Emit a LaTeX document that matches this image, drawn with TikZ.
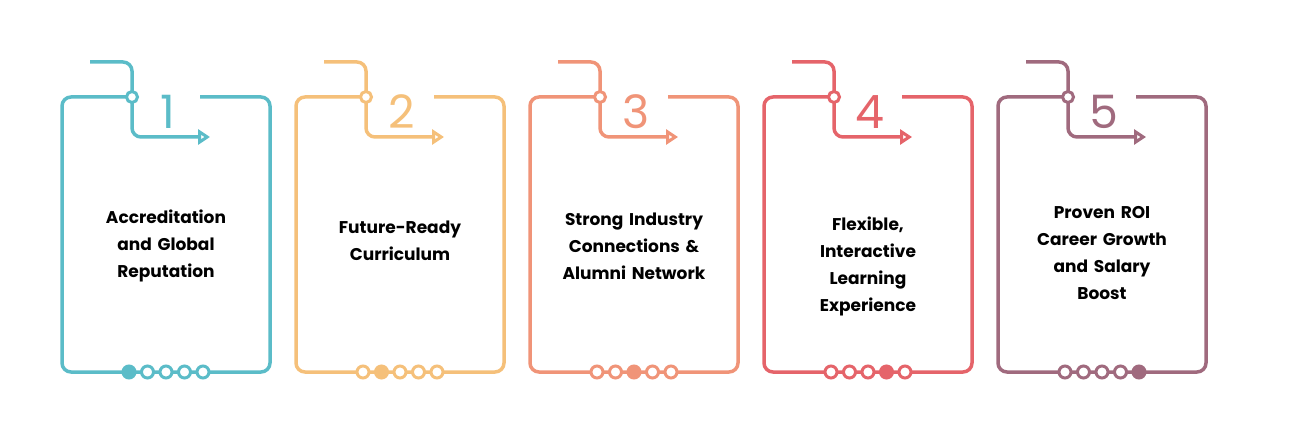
\documentclass[tikz,border=0pt]{standalone}
\usepackage{fontspec}
\setmainfont{Poppins}
\usetikzlibrary{arrows.meta}
\definecolor{cA}{HTML}{5BBCC8}
\definecolor{cB}{HTML}{F5C07A}
\definecolor{cC}{HTML}{F09478}
\definecolor{cD}{HTML}{E5646A}
\definecolor{cE}{HTML}{A06A7E}
\tikzset{
  frame/.style={line width=3.5pt, rounded corners=9pt},
  label/.style={align=center, text width=180pt, font=\bfseries\fontsize{17}{27}\selectfont},
  numtext/.style={font=\fontsize{46}{46}\selectfont},
  dot/.style={circle, line width=3pt, minimum size=12pt, inner sep=0pt, fill=white}
}
\begin{document}
\begin{tikzpicture}[x=1pt,y=-1pt]
  \useasboundingbox (0,0) rectangle (1296,433);
  \foreach \i/\c/\ty/\txt in {0/cA/246/{Accreditation\\and Global\\Reputation},
      1/cB/241/{Future-Ready\\Curriculum},
      2/cC/246/{Strong Industry\\Connections \&\\Alumni Network},
      3/cD/266/{Flexible,\\Interactive\\Learning\\Experience},
      4/cE/253/{Proven ROI\\Career Growth\\and Salary\\Boost}}{
    \begin{scope}[xshift=234*\i]
      % card frame
      \draw[\c, frame] (132,97) -- (62,97) -- (62,372) -- (270,372) -- (270,97) -- (200,97);
      % hook with arrow
      \draw[\c, frame, -{Triangle[open, length=12pt, width=15pt, line width=3pt]}]
        (90,62) -- (132,62) -- (132,137) -- (210,137);
      \node[dot, draw=\c, minimum size=11pt] (hub\i) at (132,97) {};
      \node[numtext, text=\c] (num\i) at (168,112) {\pgfmathparse{int(\i+1)}\pgfmathresult};
      \node[label] (txt\i) at (166,\ty) {\txt};
      % dots along the bottom
      \foreach \k in {0,...,4}{
        \pgfmathsetmacro\fl{\k==\i ? "\c" : "white"}
        \node[dot, draw=\c, fill=\fl] (d\i\k) at (129+18.5*\k,372) {};
      }
    \end{scope}
  }
\end{tikzpicture}
\end{document}
